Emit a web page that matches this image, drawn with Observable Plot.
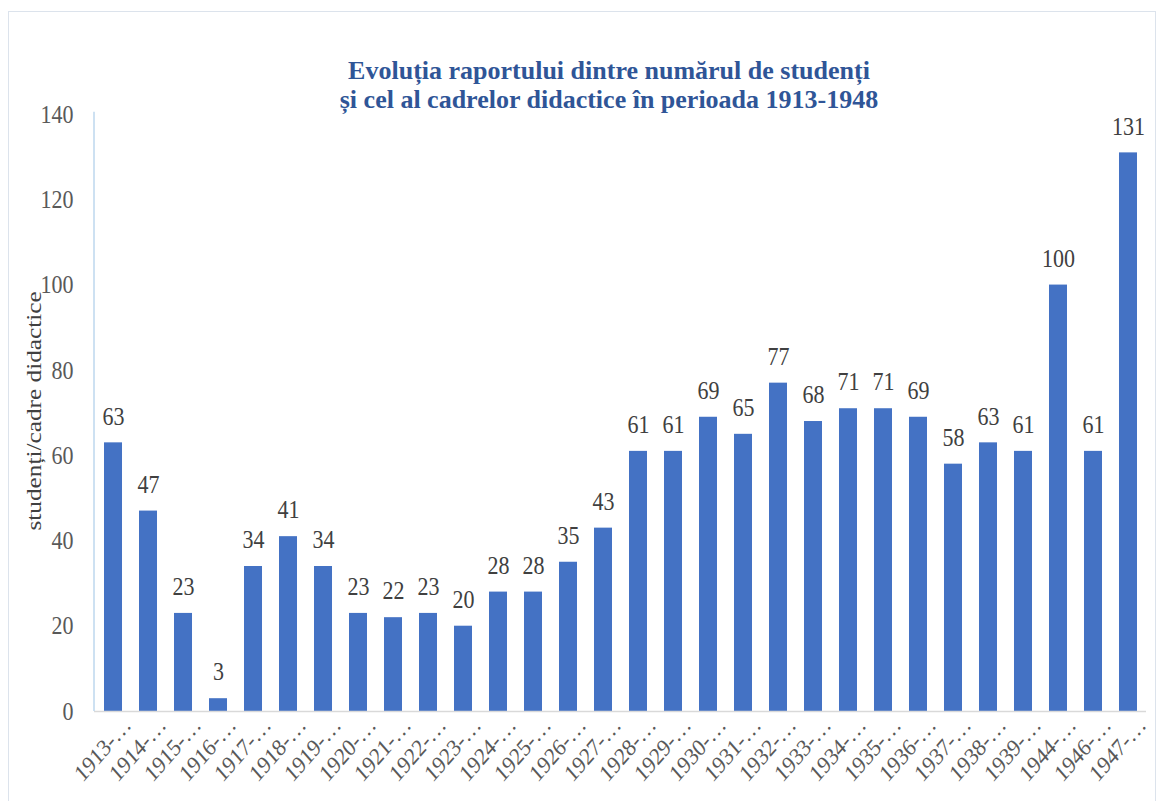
<!DOCTYPE html>
<html>
<head>
<meta charset="utf-8">
<script src="https://cdn.jsdelivr.net/npm/d3@7"></script>
<script src="https://cdn.jsdelivr.net/npm/@observablehq/plot@0.6"></script>
<style>
  html, body { margin: 0; padding: 0; background: #fff; }
  #wrap { position: relative; width: 1162px; height: 801px; overflow: hidden; }
  #frame { position: absolute; left: 8px; top: 11px; width: 1148px; height: 800px; border: 1px solid #DCE3EC; box-sizing: border-box; pointer-events: none; }
  #title { position: absolute; left: 0; width: 1218px; top: 56px; text-align: center; font-family: "Liberation Serif", "Times New Roman", serif; font-weight: bold; font-size: 26px; line-height: 29px; color: #2F5597; }
  #chart { position: absolute; left: 0; top: 0; transform-origin: 0 0; }
</style>
</head>
<body>
<div id="wrap">
  <div id="frame"></div>
  <div id="chart"></div>
  <div id="title">Evoluția raportului dintre numărul de studenți<br>și cel al cadrelor didactice în perioada 1913-1948</div>
</div>
<script>
const categories = ["1913-…","1914-…","1915-…","1916-…","1917-…","1918-…","1919-…","1920-…","1921-…","1922-…","1923-…","1924-…","1925-…","1926-…","1927-…","1928-…","1929-…","1930-…","1931-…","1932-…","1933-…","1934-…","1935-…","1936-…","1937-…","1938-…","1939-…","1944-…","1946-…","1947-…"];
const values = [63,47,23,3,34,41,34,23,22,23,20,28,28,35,43,61,61,69,65,77,68,71,71,69,58,63,61,100,61,131];
const yTicks = [0,20,40,60,80,100,120,140];

const data = categories.map((c, i) => ({cat: c, v: values[i]}));
const font = "'Liberation Serif', 'Times New Roman', serif";
const S = 1.15; // vertical stretch of the reference rendering

const chart = Plot.plot({
  width: 1162,
  height: 801 / S,
  marginLeft: 94,
  marginRight: 16,
  marginTop: 114 / S,
  marginBottom: 90 / S,
  style: {fontFamily: font, background: "transparent", overflow: "visible"},
  x: {domain: categories, paddingInner: 0.49, paddingOuter: 0.24, label: null},
  y: {domain: [0, 140], label: null},
  marks: [
    Plot.barY(data, {x: "cat", y: "v", fill: "#4472C4"}),
    Plot.ruleY([0], {stroke: "#D9D9D9", strokeWidth: 1.4}),
    (index, scales, values, dims) => {
      const line = document.createElementNS("http://www.w3.org/2000/svg", "line");
      const x = dims.marginLeft;
      line.setAttribute("x1", x); line.setAttribute("x2", x);
      line.setAttribute("y1", scales.y(140) - 2); line.setAttribute("y2", scales.y(0));
      line.setAttribute("stroke", "#BDD7EE"); line.setAttribute("stroke-width", 1.5);
      return line;
    },
    Plot.text(data, {x: "cat", y: "v", text: d => String(d.v), dy: -23, fontSize: 22, fill: "#404040", fontFamily: font}),
    Plot.axisY({ticks: yTicks, tickSize: 0, tickPadding: 21, fontSize: 22, color: "#595959", label: null, fontFamily: font}),
    Plot.axisX({tickSize: 0, tickRotate: -45, tickPadding: 4, fontSize: 21, color: "#595959", label: null, fontFamily: font, dx: 14, dy: 4}),
    Plot.text(["studenți/cadre didactice"], {frameAnchor: "left", textAnchor: "middle", dx: -61, rotate: -90, fontSize: 22, fill: "#404040", fontFamily: font, y: [70.5], text: d => d})
  ]
});
const holder = document.getElementById("chart");
holder.style.transform = `scaleY(${S})`;
holder.appendChild(chart);
</script>
</body>
</html>
